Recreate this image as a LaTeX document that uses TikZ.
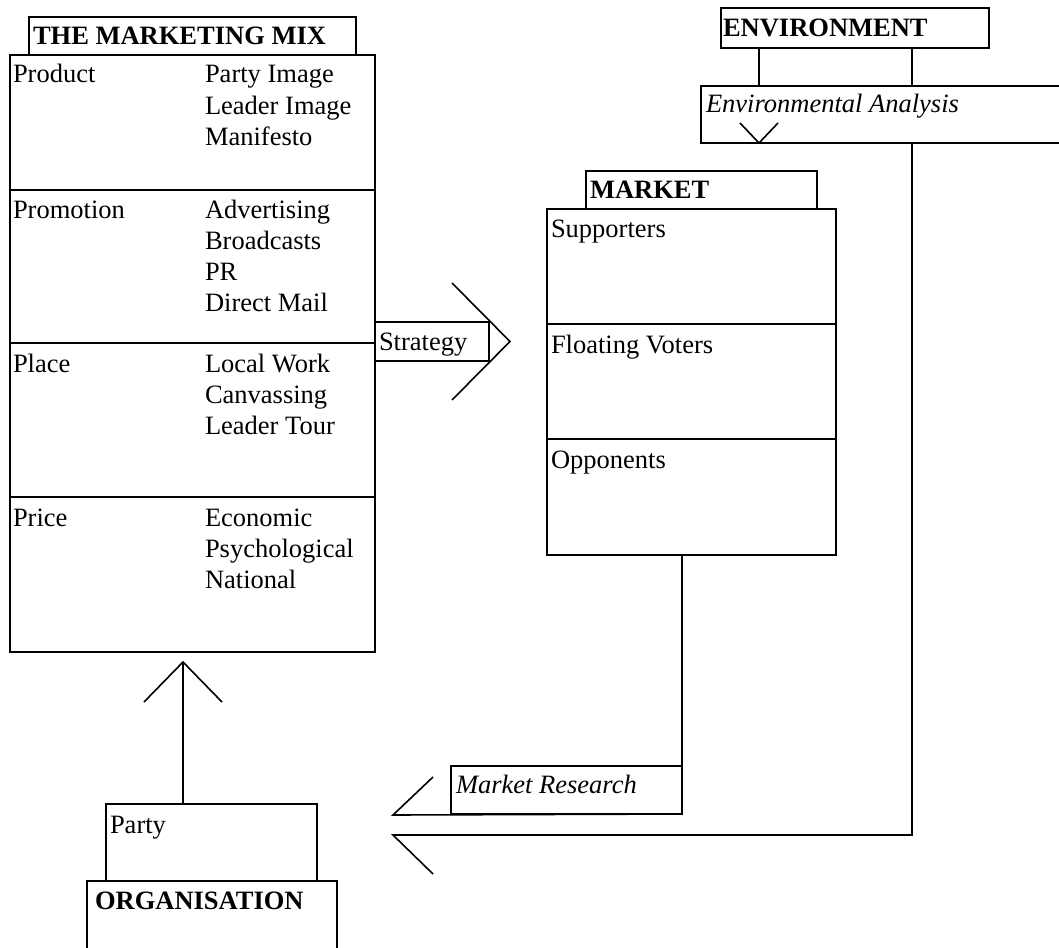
\documentclass[tikz,border=0pt]{standalone}
\usepackage{fontspec}
\setmainfont{Liberation Serif}
\begin{document}
\begin{tikzpicture}[x=1pt,y=-1pt,line width=1.6pt,
  box/.style={draw,rectangle,inner sep=0pt,outer sep=0pt,anchor=north west},
  txt/.style={anchor=base west,inner sep=0pt,outer sep=0pt,font=\fontsize{26.5}{30}\selectfont},
  btxt/.style={txt,font=\fontsize{26.5}{30}\selectfont\bfseries},
  itxt/.style={txt,font=\fontsize{26.5}{30}\selectfont\itshape},
  conn/.style={draw,line join=miter}]
\useasboundingbox (0,0) rectangle (1059,947);

% ---------- Marketing mix ----------
\node[box,minimum width=327pt,minimum height=38pt] (mixtitle) at (29,17) {};
\node[box,minimum width=365pt,minimum height=597pt] (mix) at (10,55) {};
\draw (mix.west |- 0,190) -- (mix.east |- 0,190);
\draw (mix.west |- 0,343) -- (mix.east |- 0,343);
\draw (mix.west |- 0,497) -- (mix.east |- 0,497);
\node[btxt] (tmix) at (33,45) {THE MARKETING MIX};
\node[txt] (tprod) at (13,83) {Product};
\node[txt] (tprod1) at (205,83) {Party Image};
\node[txt] (tprod2) at (205,114) {Leader Image};
\node[txt] (tprod3) at (205,145) {Manifesto};
\node[txt] (tprom) at (13,218) {Promotion};
\node[txt] (tprom1) at (205,218) {Advertising};
\node[txt] (tprom2) at (205,249) {Broadcasts};
\node[txt] (tprom3) at (205,280) {PR};
\node[txt] (tprom4) at (205,311) {Direct Mail};
\node[txt] (tplace) at (13,372) {Place};
\node[txt] (tplace1) at (205,372) {Local Work};
\node[txt] (tplace2) at (205,403) {Canvassing};
\node[txt] (tplace3) at (205,434) {Leader Tour};
\node[txt] (tprice) at (13,526) {Price};
\node[txt] (tprice1) at (205,526) {Economic};
\node[txt] (tprice2) at (205,557) {Psychological};
\node[txt] (tprice3) at (205,588) {National};

% ---------- Strategy arrow ----------
\node[box,minimum width=114pt,minimum height=39pt] (strat) at (375,322) {};
\node[txt] (tstrat) at (379,350) {Strategy};
\coordinate (strattip) at (510,341.5);
\draw[conn] (452,283) -- (strattip) -- (452,400);

% ---------- Market ----------
\node[box,minimum width=231pt,minimum height=38pt] (mkttitle) at (586,171) {};
\node[box,minimum width=289pt,minimum height=346pt] (mkt) at (547,209) {};
\draw (mkt.west |- 0,324) -- (mkt.east |- 0,324);
\draw (mkt.west |- 0,439) -- (mkt.east |- 0,439);
\node[btxt] (tmkt) at (590,198) {MARKET};
\node[txt] (tsup) at (551,237) {Supporters};
\node[txt] (tfloat) at (551,353) {Floating Voters};
\node[txt] (topp) at (551,468) {Opponents};

% ---------- Environment ----------
\node[box,minimum width=268pt,minimum height=40pt] (env) at (721,8) {};
\node[btxt] (tenv) at (723,37) {ENVIRONMENT};
\node[box,minimum width=362pt,minimum height=57pt] (ana) at (701,86) {};
\node[itxt] (tana) at (706,113) {Environmental Analysis};
\draw (env.south -| 759,0) -- (ana.north -| 759,0);
\draw (env.south -| 912,0) -- (ana.north -| 912,0);
\coordinate (anatip) at (759,143);
\draw[conn] (740,123) -- (anatip) -- (778,123);

% ---------- Market research ----------
\node[box,minimum width=231pt,minimum height=48pt] (mr) at (451,766) {};
\node[itxt] (tmr) at (456,793) {Market Research};
\coordinate (mrtip) at (393,815);
\draw (mkt.south -| 682,0) -- (mr.north east);
\draw[conn] (mr.south east) -- (mrtip) -- (433,777);

% ---------- Environment feedback ----------
\coordinate (envtip) at (393,835);
\draw[conn] (ana.south -| 912,0) -- (912,835) -- (envtip) -- (433,874);

% ---------- Organisation ----------
\node[box,minimum width=211pt,minimum height=77pt] (party) at (106,804) {};
\node[txt] (tparty) at (110,833) {Party};
\node[box,minimum width=250pt,minimum height=90pt] (org) at (87,881) {};
\node[btxt] (torg) at (95,909) {ORGANISATION};
\coordinate (uptip) at (183,662);
\draw (party.north -| 183,0) -- (uptip);
\draw[conn] (144,702) -- (uptip) -- (222,702);
\end{tikzpicture}
\end{document}
